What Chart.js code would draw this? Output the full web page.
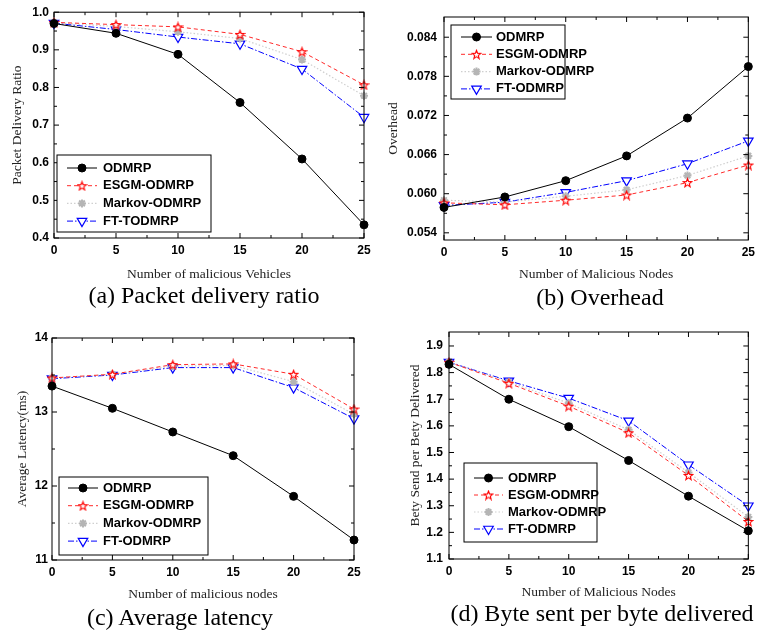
<!DOCTYPE html>
<html>
<head>
<meta charset="utf-8">
<script src="https://cdn.jsdelivr.net/npm/chart.js@4.4.1/dist/chart.umd.min.js"></script>
<style>
  body { margin: 0; background: #fff; width: 760px; height: 631px; position: relative; overflow: hidden; }
  .box { position: absolute; width: 380px; height: 290px; }
  .cap { position: absolute; font-family: "Liberation Serif", "Times New Roman", serif; font-size: 24px; color: #000;
         transform: translate(-50%, -50%); white-space: nowrap; }
</style>
</head>
<body>
<div class="box" style="left:0;top:0"><canvas id="pdr"></canvas></div>
<div class="box" style="left:380px;top:0"><canvas id="overhead"></canvas></div>
<div class="box" style="left:0;top:315px"><canvas id="latency"></canvas></div>
<div class="box" style="left:380px;top:315px"><canvas id="bytes"></canvas></div>
<div class="cap" style="left:204px;top:295px">(a) Packet delivery ratio</div>
<div class="cap" style="left:600px;top:297px">(b) Overhead</div>
<div class="cap" style="left:180px;top:617px">(c) Average latency</div>
<div class="cap" style="left:602px;top:613px">(d) Byte sent per byte delivered</div>
<script>
// x axis: number of malicious nodes
const nodes = [0, 5, 10, 15, 20, 25];
const xTicks = [0, 5, 10, 15, 20, 25];

const names = ["ODMRP", "ESGM-ODMRP", "Markov-ODMRP", "FT-ODMRP"];
const pdrNames = ["ODMRP", "ESGM-ODMRP", "Markov-ODMRP", "FT-TODMRP"];

// (a) packet delivery ratio
const pdrOdmrp  = [0.970, 0.944, 0.888, 0.760, 0.610, 0.435];
const pdrEsgm   = [0.973, 0.967, 0.961, 0.941, 0.895, 0.807];
const pdrMarkov = [0.972, 0.962, 0.948, 0.930, 0.874, 0.778];
const pdrFt     = [0.971, 0.954, 0.934, 0.916, 0.849, 0.721];
const pdrTicks  = [0.4, 0.5, 0.6, 0.7, 0.8, 0.9, 1.0];

// (b) overhead
const ohOdmrp  = [0.0579, 0.0595, 0.0620, 0.0658, 0.0716, 0.0795];
const ohEsgm   = [0.0586, 0.0583, 0.0590, 0.0598, 0.0617, 0.0644];
const ohMarkov = [0.0590, 0.0587, 0.0596, 0.0606, 0.0628, 0.0658];
const ohFt     = [0.0582, 0.0587, 0.0602, 0.0620, 0.0646, 0.0681];
const ohTicks  = [0.054, 0.060, 0.066, 0.072, 0.078, 0.084];

// (c) average latency (ms)
const latOdmrp  = [13.35, 13.05, 12.73, 12.41, 11.86, 11.27];
const latEsgm   = [13.46, 13.51, 13.64, 13.65, 13.51, 13.04];
const latMarkov = [13.46, 13.51, 13.62, 13.63, 13.41, 12.97];
const latFt     = [13.45, 13.50, 13.60, 13.60, 13.33, 12.91];
const latTicks  = [11, 12, 13, 14];

// (d) bytes sent per byte delivered
const bsOdmrp  = [1.831, 1.700, 1.597, 1.470, 1.336, 1.206];
const bsEsgm   = [1.839, 1.760, 1.674, 1.574, 1.414, 1.241];
const bsMarkov = [1.840, 1.765, 1.685, 1.585, 1.425, 1.258];
const bsFt     = [1.839, 1.769, 1.704, 1.619, 1.454, 1.300];
const bsTicks  = [1.1, 1.2, 1.3, 1.4, 1.5, 1.6, 1.7, 1.8, 1.9];

// open red star marker
function starImage() {
    const c = document.createElement("canvas");
    c.width = 11; c.height = 11;
    const g = c.getContext("2d");
    g.beginPath();
    for (let i = 0; i < 10; i++) {
        const r = i % 2 ? 1.9 : 4.5;
        const a = -Math.PI / 2 + i * Math.PI / 5;
        g.lineTo(5.5 + r * Math.cos(a), 6 + r * Math.sin(a));
    }
    g.closePath();
    g.fillStyle = "#fff"; g.fill();
    g.strokeStyle = "#f00"; g.lineWidth = 1.1; g.stroke();
    return c;
}
const star = starImage();

const styles = [
    { borderColor: "#000", borderWidth: 1, borderDash: [], pointStyle: "circle", pointRadius: 4,
      pointBackgroundColor: "#000", pointBorderColor: "#000", pointBorderWidth: 1 },
    { borderColor: "#ff2a2a", borderWidth: 1, borderDash: [4, 3], pointStyle: star, pointRadius: 5,
      pointBackgroundColor: "#fff", pointBorderColor: "#f00", pointBorderWidth: 1 },
    { borderColor: "#cfcfcf", borderWidth: 1.2, borderDash: [1.5, 2], pointStyle: "star", pointRadius: 4,
      pointBackgroundColor: "#bbb", pointBorderColor: "#b5b5b5", pointBorderWidth: 2 },
    { borderColor: "#0000ff", borderWidth: 1, borderDash: [6, 2, 1.5, 2], pointStyle: "triangle", pointRotation: 180,
      pointRadius: 5.5, pointBackgroundColor: "#fff", pointBorderColor: "#0000ff", pointBorderWidth: 1.2 },
];

const tickFont = { family: "Liberation Sans", size: 12, weight: "bold" };
const titleFont = { family: "Liberation Serif", size: 13.5 };

// Origin-like frame, inward ticks and boxed legend
const framePlugin = {
    id: "frame",
    afterDraw(chart, args, opts) {
        const { ctx, chartArea: a, scales: { x, y } } = chart;
        ctx.save();
        ctx.strokeStyle = "#000";
        ctx.lineWidth = 1;
        ctx.setLineDash([]);
        ctx.strokeRect(a.left, a.top, a.right - a.left, a.bottom - a.top);
        const seg = (x1, y1, x2, y2) => { ctx.beginPath(); ctx.moveTo(x1, y1); ctx.lineTo(x2, y2); ctx.stroke(); };
        const mids = ts => ts.slice(1).map((t, i) => (t.value + ts[i].value) / 2);
        x.ticks.forEach(t => { const p = x.getPixelForValue(t.value); seg(p, a.bottom, p, a.bottom - 5); seg(p, a.top, p, a.top + 5); });
        mids(x.ticks).forEach(v => { const p = x.getPixelForValue(v); seg(p, a.bottom, p, a.bottom - 3); seg(p, a.top, p, a.top + 3); });
        y.ticks.forEach(t => { const p = y.getPixelForValue(t.value); seg(a.left, p, a.left + 5, p); seg(a.right, p, a.right - 5, p); });
        mids(y.ticks).forEach(v => { const p = y.getPixelForValue(v); seg(a.left, p, a.left + 3, p); seg(a.right, p, a.right - 3, p); });

        const lg = opts.legend;
        ctx.fillStyle = "#fff";
        ctx.fillRect(lg.x, lg.y, lg.w, lg.h);
        ctx.strokeRect(lg.x, lg.y, lg.w, lg.h);
        chart.data.datasets.forEach((ds, i) => {
            const yy = lg.row0 + i * lg.gap;
            ctx.strokeStyle = ds.borderColor;
            ctx.lineWidth = ds.borderWidth;
            ctx.setLineDash(ds.borderDash);
            seg(lg.s0, yy, lg.s1, yy);
            ctx.setLineDash([]);
            ctx.fillStyle = ds.pointBackgroundColor;
            ctx.strokeStyle = ds.pointBorderColor;
            ctx.lineWidth = ds.pointBorderWidth;
            Chart.helpers.drawPoint(ctx, { pointStyle: ds.pointStyle, radius: ds.pointRadius,
                rotation: ds.pointRotation || 0, borderWidth: ds.pointBorderWidth }, (lg.s0 + lg.s1) / 2, yy);
            ctx.fillStyle = "#000";
            ctx.font = "bold 13px 'Liberation Sans'";
            ctx.textBaseline = "middle";
            ctx.textAlign = "left";
            ctx.fillText(ds.label, lg.tx, yy);
        });
        ctx.restore();
    }
};

function makeChart(id, labels, series, cfg) {
    return new Chart(document.getElementById(id), {
        type: "line",
        data: {
            datasets: series.map((vals, i) => ({
                label: labels[i],
                data: nodes.map((n, j) => ({ x: n, y: vals[j] })),
                ...styles[i],
                clip: false,
                tension: 0,
            })),
        },
        options: {
            responsive: true,
            maintainAspectRatio: false,
            animation: false,
            events: [],
            layout: { padding: cfg.pad },
            plugins: { legend: { display: false }, tooltip: { enabled: false }, frame: { legend: cfg.legend } },
            scales: {
                x: {
                    type: "linear", min: 0, max: 25,
                    afterBuildTicks: s => { s.ticks = xTicks.map(v => ({ value: v })); },
                    afterFit: s => { s.height = cfg.xh; },
                    grid: { display: false, drawTicks: false }, border: { display: false },
                    ticks: { font: tickFont, color: "#000", padding: 5 },
                    title: { display: true, text: cfg.xTitle, font: titleFont, color: "#222", padding: { top: 0, bottom: cfg.xtb } },
                },
                y: {
                    type: "linear", min: cfg.min, max: cfg.max,
                    afterBuildTicks: s => { s.ticks = cfg.ticks.map(v => ({ value: v })); },
                    afterFit: s => { s.width = cfg.yw; },
                    grid: { display: false, drawTicks: false }, border: { display: false },
                    ticks: { font: tickFont, color: "#000", padding: cfg.ypad, callback: v => v.toFixed(cfg.dec) },
                    title: { display: true, text: cfg.yTitle, font: titleFont, color: "#222", padding: { top: cfg.ytp, bottom: 0 } },
                },
            },
        },
        plugins: [framePlugin],
    });
}

makeChart("pdr", pdrNames, [pdrOdmrp, pdrEsgm, pdrMarkov, pdrFt], {
    pad: { left: 0, top: 12, right: 16, bottom: 0 }, xh: 52, yw: 54, xtb: 7, ytp: 9, ypad: 5,
    min: 0.4, max: 1.0, ticks: pdrTicks, dec: 1,
    xTitle: "Number of malicious Vehicles", yTitle: "Packet Delivery Ratio",
    legend: { x: 57, y: 155, w: 154, h: 77, row0: 168, gap: 17.7, s0: 67, s1: 97, tx: 103 },
});
makeChart("overhead", names, [ohOdmrp, ohEsgm, ohMarkov, ohFt], {
    pad: { left: 0, top: 17, right: 6, bottom: 0 }, xh: 50, yw: 64, xtb: 7, ytp: 5, ypad: 7,
    min: 0.0529, max: 0.0871, ticks: ohTicks, dec: 3,
    xTitle: "Number of Malicious Nodes", yTitle: "Overhead",
    legend: { x: 71, y: 25, w: 114, h: 74, row0: 37, gap: 17.3, s0: 81, s1: 112, tx: 116 },
});
makeChart("latency", names, [latOdmrp, latEsgm, latMarkov, latFt], {
    pad: { left: 0, top: 23, right: 26, bottom: 0 }, xh: 45, yw: 52, xtb: 2, ytp: 14, ypad: 4,
    min: 11, max: 14, ticks: latTicks, dec: 0,
    xTitle: "Number of malicious nodes", yTitle: "Average Latency(ms)",
    legend: { x: 59, y: 162, w: 149, h: 78, row0: 173, gap: 17.7, s0: 68, s1: 98, tx: 103 },
});
makeChart("bytes", names, [bsOdmrp, bsEsgm, bsMarkov, bsFt], {
    pad: { left: 0, top: 17, right: 9, bottom: 0 }, xh: 46, yw: 69, xtb: 4, ytp: 27, ypad: 6,
    min: 1.1, max: 1.9525, ticks: bsTicks, dec: 1,
    xTitle: "Number of Malicious Nodes", yTitle: "Bety Send per Bety Delivered",
    legend: { x: 84, y: 148, w: 133, h: 79, row0: 163, gap: 17, s0: 94, s1: 123, tx: 128 },
});
</script>
</body>
</html>
